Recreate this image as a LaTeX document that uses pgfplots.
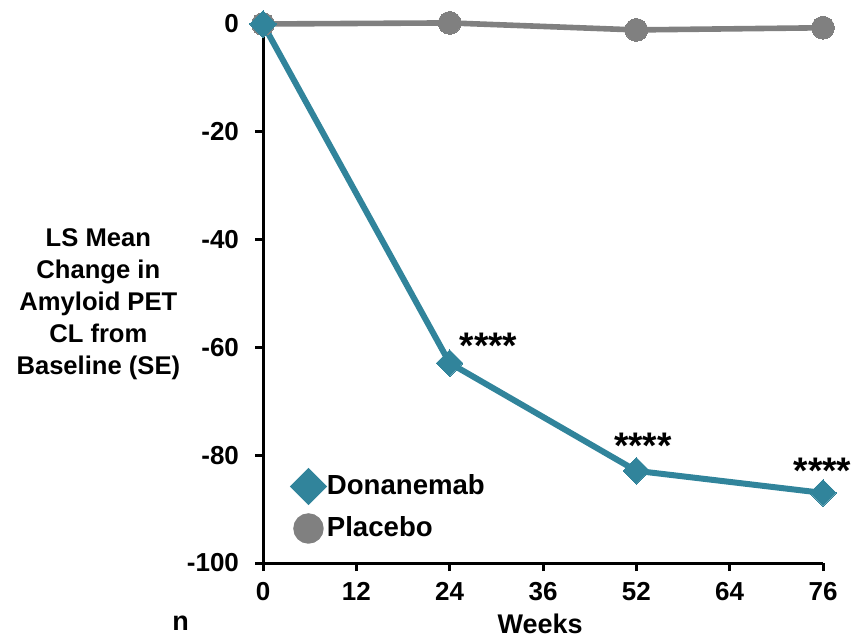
\documentclass[border=0pt]{standalone}
\usepackage{pgfplots}
\pgfplotsset{compat=1.18}
\usepackage{fontspec}
\setmainfont{Liberation Sans}
\definecolor{tealc}{RGB}{49,132,155}
\definecolor{grayc}{RGB}{128,128,128}
\begin{document}
\begin{tikzpicture}
\begin{axis}[
  scale only axis, width=280pt, height=269.5pt,
  xmin=0, xmax=6, ymin=-100, ymax=0,
  axis x line=bottom, axis y line=left,
  axis line style={-, line width=1.5pt, black},
  xtick={0,1,2,3,4,5,6}, xticklabels={0,12,24,36,52,64,76},
  ytick={-100,-80,-60,-40,-20,0}, yticklabels={-100,-80,-60,-40,-20,0},
  tick style={line width=1.5pt, black},
  tick align=outside, major tick length=4pt,
  tick label style={font=\bfseries\fontsize{13}{15}\selectfont},
  yticklabel style={xshift=-4.5pt},
  xticklabel style={yshift=-2pt},
  clip=false,
  legend style={draw=none, fill=none, at={(rel axis cs:0.044,0.103)}, anchor=west,
    font=\bfseries\fontsize{13.8}{15}\selectfont, row sep=5.5pt},
  legend cell align=left,
  reverse legend,
]
\addplot[color=grayc, line width=2.8pt, mark=*, mark size=5.7pt, mark options={fill=grayc, draw=grayc, line width=0pt},
  legend image code/.code={\draw[mark=*, mark size=6.2pt, mark options={fill=grayc, draw=grayc}] plot coordinates {(0.2cm,0cm)};\path (0.4cm,0cm);}]
  coordinates {(0,0) (2,0.2) (4,-1.1) (6,-0.7)};
\addlegendentry{Placebo}
\addplot[color=tealc, line width=3pt, mark=square*, mark size=4.7pt, mark options={rotate=45, fill=tealc, draw=tealc, line width=0pt},
  legend image code/.code={\draw[mark=square*, mark size=5.1pt, mark options={rotate=45, fill=tealc, draw=tealc}] plot coordinates {(0.2cm,0cm)};\path (0.4cm,0cm);}]
  coordinates {(0,0) (2,-62.9) (4,-82.9) (6,-87.0)};
\addlegendentry{Donanemab}
\node[anchor=north, inner sep=0pt, font=\bfseries\fontsize{18.5}{20}\selectfont] at (axis cs:2.416,-57.3) {****};
\node[anchor=north, inner sep=0pt, font=\bfseries\fontsize{18.5}{20}\selectfont] at (axis cs:4.07,-75.9) {****};
\node[anchor=north, inner sep=0pt, font=\bfseries\fontsize{18.5}{20}\selectfont] at (axis cs:5.995,-80.5) {****};
\node[align=center, font=\bfseries\fontsize{12.8}{16}\selectfont] at (rel axis cs:-0.294,0.481) {LS Mean\\Change in\\Amyloid PET\\CL from\\Baseline (SE)};
\node[font=\bfseries\fontsize{13.5}{15}\selectfont, yshift=-30.5pt] at (rel axis cs:0.495,0) {Weeks};
\node[font=\bfseries\fontsize{13.5}{15}\selectfont, yshift=-30pt] at (rel axis cs:-0.147,0) {n};
\end{axis}
\pgfresetboundingbox
\path[use as bounding box] ([xshift=-131.5pt,yshift=-37pt]current axis.south west) rectangle ([xshift=15pt,yshift=12pt]current axis.north east);
\end{tikzpicture}
\end{document}
